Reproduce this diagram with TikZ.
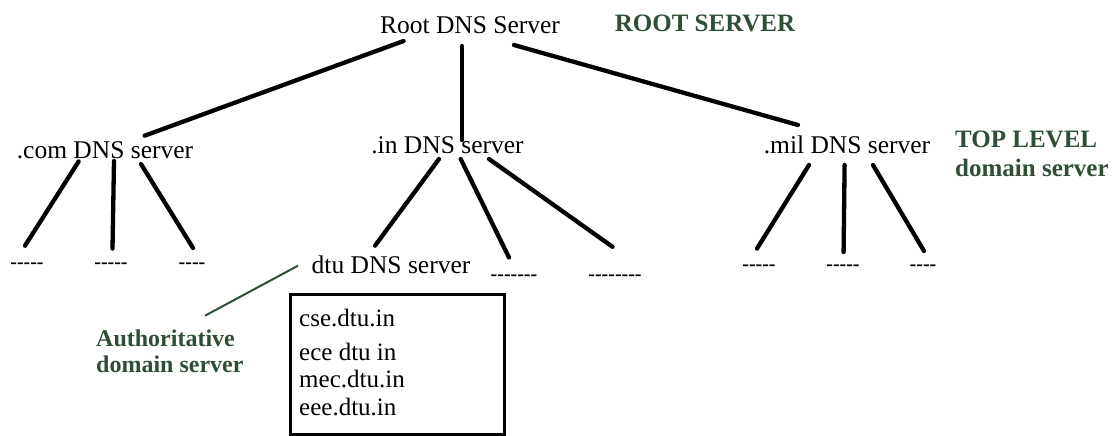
\documentclass[tikz,border=0pt]{standalone}
\usepackage{fontspec}
\setmainfont{Liberation Serif}
\definecolor{lbl}{HTML}{2E4F36}
\newcommand\hy{-\kern0pt}
\begin{document}
\begin{tikzpicture}[x=1pt,y=-1pt,
 txt/.style={inner sep=0pt, font=\fontsize{25.5}{28}\selectfont},
 grn/.style={inner sep=0pt, text=lbl, font=\fontsize{25}{28}\selectfont\bfseries},
 grns/.style={inner sep=0pt, text=lbl, font=\fontsize{24}{28}\selectfont\bfseries},
 dsh/.style={inner sep=0pt, font=\fontsize{20}{24}\selectfont\bfseries},
 edge/.style={line width=4.3pt, line cap=round},
 ptr/.style={draw=lbl, line width=2pt},
 boxtxt/.style={inner sep=0pt, anchor=west, font=\fontsize{25}{28}\selectfont}]
\useasboundingbox (0,0) rectangle (1112,436);
% labels
\node[txt] (root) at (470,25) {Root DNS Server};
\node[grn] (rootlbl) at (705,23) {ROOT SERVER};
\node[txt] (com) at (105,150) {.com DNS server};
\node[txt] (in) at (447.5,145) {.in DNS server};
\node[txt] (mil) at (847,145) {.mil DNS server};
\node[grn, anchor=west] (tl1) at (955,139) {TOP LEVEL};
\node[grn, anchor=west] (tl2) at (955,168) {domain server};
\node[txt] (dtu) at (391,264.6) {dtu DNS server};
\node[grns, anchor=west] (au1) at (96,338) {Authoritative};
\node[grns, anchor=west] (au2) at (96,364.6) {domain server};
% box
\node[draw, line width=3pt, minimum width=214pt, minimum height=140pt, anchor=north west, inner sep=0pt] (box) at (289,293) {};
\node[boxtxt] (b1) at (299,318) {cse.dtu.in};
\node[boxtxt] (b2) at (299,352) {ece dtu in};
\node[boxtxt] (b3) at (299,379) {mec.dtu.in};
\node[boxtxt] (b4) at (299,407.5) {eee.dtu.in};
% dash leaves
\node[dsh] (c1) at (27,265.5) {\hy\hy\hy\hy\hy};
\node[dsh] (c2) at (111,265.5) {\hy\hy\hy\hy\hy};
\node[dsh] (c3) at (192,265.5) {\hy\hy\hy\hy};
\node[dsh] (i2) at (514,277.5) {\hy\hy\hy\hy\hy\hy\hy};
\node[dsh] (i3) at (615,277.5) {\hy\hy\hy\hy\hy\hy\hy\hy};
\node[dsh] (m1) at (759,268) {\hy\hy\hy\hy\hy};
\node[dsh] (m2) at (843,268) {\hy\hy\hy\hy\hy};
\node[dsh] (m3) at (923,268) {\hy\hy\hy\hy};
% connector end points
\coordinate (rA) at (403.6,41);  \coordinate (comT) at (144.6,135.7);
\coordinate (rB) at (462,46);    \coordinate (inT) at (462,140);
\coordinate (rC) at (514,45);    \coordinate (milT) at (798,125);
\coordinate (comB1) at (78.6,161.5) ; \coordinate (c1T) at (25,245.7);
\coordinate (comB2) at (114,161) ;    \coordinate (c2T) at (112.5,248.6);
\coordinate (comB3) at (141,164) ;  \coordinate (c3T) at (193,248);
\coordinate (inB1) at (439,159) ;     \coordinate (dtuT) at (375,245.7);
\coordinate (inB2) at (460.7,159) ;   \coordinate (i2T) at (509,257.5);
\coordinate (inB3) at (489,159) ;     \coordinate (i3T) at (612.5,246.8);
\coordinate (milB1) at (809,165) ;    \coordinate (m1T) at (757,248.6);
\coordinate (milB2) at (844.6,165) ;  \coordinate (m2T) at (843.6,252);
\coordinate (milB3) at (873,165) ;    \coordinate (m3T) at (924,251);
\coordinate (auT) at (205,315.7) ;    \coordinate (dtuL) at (298,265.7);
% connectors
\draw[edge] (rA) -- (comT);
\draw[edge] (rB) -- (inT);
\draw[edge] (rC) -- (milT);
\draw[edge] (comB1) -- (c1T);
\draw[edge] (comB2) -- (c2T);
\draw[edge] (comB3) -- (c3T);
\draw[edge] (inB1) -- (dtuT);
\draw[edge] (inB2) -- (i2T);
\draw[edge] (inB3) -- (i3T);
\draw[edge] (milB1) -- (m1T);
\draw[edge] (milB2) -- (m2T);
\draw[edge] (milB3) -- (m3T);
\draw[ptr] (auT) -- (dtuL);
\end{tikzpicture}
\end{document}
